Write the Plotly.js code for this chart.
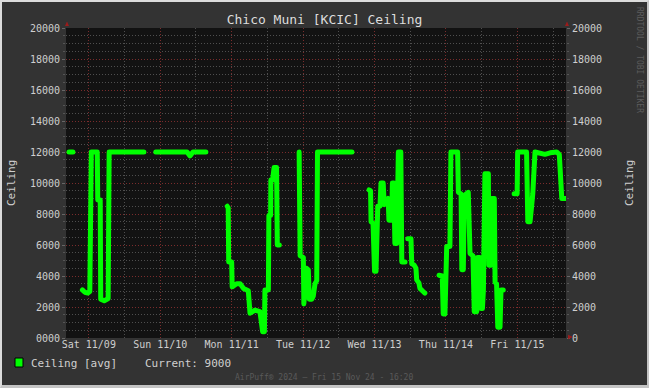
<!DOCTYPE html>
<html>
<head>
<meta charset="utf-8">
<script src="https://cdn.plot.ly/plotly-3.0.1.min.js"></script>
<style>
html,body{margin:0;padding:0;background:#333;}
#wrap{position:relative;width:649px;height:388px;}
#chart{position:absolute;left:0;top:0;width:649px;height:388px;}
#frame{position:absolute;left:0;top:0;width:649px;height:388px;box-sizing:border-box;
  border-style:solid;border-width:2px 2px 3px 2px;border-color:#dcdcdc #c4c4c4 #c4c4c4 #dcdcdc;pointer-events:none;}
.scatterlayer .js-line{stroke-linecap:round !important;stroke-linejoin:round !important;}
</style>
</head>
<body>
<div id="wrap"><div id="chart"></div><div id="frame"></div></div>
<script>
// ---- data ----
const chartTitle = 'Chico Muni [KCIC] Ceiling';
const seriesName = 'Ceiling [avg]';
const footerText = 'AirPuff\u00AE 2024 \u2013 Fri 15 Nov 24 - 16:20';
const sideText = 'RRDTOOL / TOBI OETIKER';
const timeRange = ['2024-11-08 16:20', '2024-11-15 16:20'];

const times = [
 '2024-11-08 17:20','2024-11-08 18:40','2024-11-08 20:00',
 '2024-11-08 21:50','2024-11-08 22:40','2024-11-08 23:40','2024-11-09 00:20','2024-11-09 00:50',
 '2024-11-09 02:50','2024-11-09 03:00','2024-11-09 03:50','2024-11-09 04:00','2024-11-09 05:10',
 '2024-11-09 06:30','2024-11-09 06:50','2024-11-09 18:30','2024-11-09 20:30',
 '2024-11-09 22:30','2024-11-10 09:00','2024-11-10 10:00','2024-11-10 11:00','2024-11-10 15:20','2024-11-10 19:00',
 '2024-11-10 22:30','2024-11-10 22:50','2024-11-10 23:00','2024-11-11 00:00','2024-11-11 00:10',
 '2024-11-11 01:40','2024-11-11 02:50','2024-11-11 04:00','2024-11-11 05:35','2024-11-11 06:10',
 '2024-11-11 07:50','2024-11-11 09:30','2024-11-11 10:25','2024-11-11 11:00','2024-11-11 11:10',
 '2024-11-11 12:20','2024-11-11 12:30','2024-11-11 13:05','2024-11-11 13:10','2024-11-11 13:45',
 '2024-11-11 14:15','2024-11-11 15:05','2024-11-11 15:20','2024-11-11 16:00','2024-11-11 19:00',
 '2024-11-11 22:40','2024-11-11 23:00','2024-11-12 00:05','2024-11-12 00:15','2024-11-12 01:10',
 '2024-11-12 01:45','2024-11-12 02:05','2024-11-12 02:55','2024-11-12 03:25','2024-11-12 04:00',
 '2024-11-12 04:35','2024-11-12 04:50','2024-11-12 16:25','2024-11-12 19:00',
 '2024-11-12 22:10','2024-11-12 22:40','2024-11-12 22:50','2024-11-12 23:30','2024-11-13 00:00',
 '2024-11-13 00:30','2024-11-13 01:05','2024-11-13 01:50','2024-11-13 02:10','2024-11-13 02:55',
 '2024-11-13 03:15','2024-11-13 04:35','2024-11-13 04:50','2024-11-13 05:45','2024-11-13 06:00',
 '2024-11-13 06:30','2024-11-13 06:50','2024-11-13 07:30','2024-11-13 08:00','2024-11-13 08:50',
 '2024-11-13 09:10','2024-11-13 10:15','2024-11-13 10:40',
 '2024-11-13 11:10','2024-11-13 12:15','2024-11-13 12:30','2024-11-13 13:20','2024-11-13 13:55',
 '2024-11-13 14:10','2024-11-13 14:55','2024-11-13 15:15','2024-11-13 16:20','2024-11-13 16:55','2024-11-13 19:00',
 '2024-11-13 21:40','2024-11-13 22:45','2024-11-13 23:05','2024-11-13 23:40','2024-11-14 00:15',
 '2024-11-14 01:20','2024-11-14 01:40','2024-11-14 03:55','2024-11-14 04:10','2024-11-14 05:05',
 '2024-11-14 05:20','2024-11-14 05:50','2024-11-14 06:10','2024-11-14 07:30','2024-11-14 08:05',
 '2024-11-14 09:05','2024-11-14 09:30','2024-11-14 10:20','2024-11-14 10:40','2024-11-14 11:25',
 '2024-11-14 11:45','2024-11-14 12:15','2024-11-14 12:35','2024-11-14 13:05','2024-11-14 14:15',
 '2024-11-14 14:25','2024-11-14 15:10','2024-11-14 15:20','2024-11-14 16:15','2024-11-14 16:30',
 '2024-11-14 17:00','2024-11-14 17:25','2024-11-14 18:10','2024-11-14 18:30','2024-11-14 19:15','2024-11-14 21:00',
 '2024-11-14 22:55','2024-11-14 23:55','2024-11-15 00:05','2024-11-15 03:05','2024-11-15 03:30',
 '2024-11-15 04:15','2024-11-15 04:50','2024-11-15 05:10','2024-11-15 05:55','2024-11-15 07:35',
 '2024-11-15 09:15','2024-11-15 11:00','2024-11-15 13:10','2024-11-15 14:05','2024-11-15 14:55','2024-11-15 16:05'
];
const ceiling = [
 12000,12000,null,
 3100,2950,2900,3000,12000,
 12000,8900,8900,2500,2400,
 2550,12000,12000,null,
 12000,12000,11750,12000,12000,null,
 8500,8400,4900,4900,3300,
 3500,3500,3200,3050,1600,
 1800,1700,400,400,3100,
 3100,7900,7900,10200,10200,
 11000,11000,6000,6000,null,
 12000,5300,5200,2200,4500,
 4400,2500,2500,2700,3500,
 3700,12000,12000,null,
 9550,9500,7500,7400,4300,
 4300,8500,8500,10000,10000,
 8600,9000,7600,7600,10000,
 10000,6100,6100,12000,12000,
 4900,4900,null,
 6400,6400,4800,4700,4500,
 3750,3550,3200,3000,2900,null,
 4050,4000,1550,1550,5900,
 5900,12000,12000,9400,9300,
 4400,4400,9200,9400,5450,
 5300,1700,1700,5200,5200,
 1900,1900,3100,10600,10600,
 4700,4700,9000,9000,3600,
 3500,700,700,3100,3100,null,
 9300,9300,12000,12000,7500,
 7500,8600,9300,12000,11950,
 11850,11950,12000,11850,9000,9000
];
const currentValue = ceiling[ceiling.length - 1];

// ---- styling ----
const mono = 'DejaVu Sans Mono, monospace';
const txt = '#cfcfcf';
const redGrid = '#7a2c2c';
const grayGrid = '#4e4e4e';
const arrowRed = '#9b1c1c';

const traces = [
  {x: times, y: ceiling, type: 'scatter', mode: 'lines', connectgaps: false,
   line: {color: '#00ff00', width: 5}, hoverinfo: 'skip', showlegend: false},
  {x: [times[0]], y: [null], type: 'scatter', mode: 'lines', yaxis: 'y2',
   hoverinfo: 'skip', showlegend: false}
];

const yCommon = {
  range: [0, 20000], dtick: 2000, tick0: 0, fixedrange: true, tickformat: 'd',
  tickfont: {family: mono, size: 10, color: txt},
  showgrid: true, gridcolor: redGrid, griddash: '1px,2px', gridwidth: 1,
  zeroline: false, ticks: 'outside', ticklen: 3, tickcolor: '#666',
  minor: {dtick: 500, tick0: 0, showgrid: true, gridcolor: grayGrid, griddash: '1px,2px',
          ticks: 'outside', ticklen: 2, tickcolor: '#555'},
  showline: false
};

const layout = {
  width: 649, height: 388,
  margin: {l: 66, r: 83, t: 28, b: 50},
  paper_bgcolor: '#333333', plot_bgcolor: '#121212',
  font: {family: mono, color: txt},
  title: {text: chartTitle, font: {family: mono, size: 13, color: '#dddddd'},
          x: 0.5, xref: 'container', xanchor: 'center', y: 1 - 19/388, yref: 'container', yanchor: 'middle'},
  xaxis: {
    type: 'date', range: timeRange, fixedrange: true,
    tick0: '2024-11-09', dtick: 86400000, tickformat: '%a %m/%d',
    tickfont: {family: mono, size: 10, color: txt},
    showgrid: true, gridcolor: redGrid, griddash: '1px,2px', gridwidth: 1,
    ticks: '', ticklabelstandoff: -1,
    minor: {dtick: 43200000, tick0: '2024-11-09', showgrid: true, gridcolor: grayGrid, griddash: '1px,2px', ticks: ''},
    showline: false, zeroline: false
  },
  yaxis: Object.assign({}, yCommon, {side: 'left', labelalias: {'0': '0000'}}),
  yaxis2: Object.assign({}, yCommon, {side: 'right', overlaying: 'y', showgrid: false,
          minor: {dtick: 500, tick0: 0, showgrid: false, ticks: 'outside', ticklen: 2, tickcolor: '#555'}}),
  hovermode: false,
  shapes: [
    {type: 'rect', xref: 'paper', yref: 'paper', xsizemode: 'pixel', ysizemode: 'pixel',
     xanchor: 0, yanchor: 0, x0: -51, x1: -43, y0: -29, y1: -20,
     fillcolor: '#00ff00', line: {color: '#000000', width: 1}},
    {type: 'path', xref: 'paper', yref: 'paper', xsizemode: 'pixel', ysizemode: 'pixel',
     xanchor: 0, yanchor: 1, path: 'M -1,2 L 3,2 L 1,6.5 Z', fillcolor: arrowRed, line: {width: 0}},
    {type: 'path', xref: 'paper', yref: 'paper', xsizemode: 'pixel', ysizemode: 'pixel',
     xanchor: 1, yanchor: 1, path: 'M -1,2 L 3,2 L 1,6.5 Z', fillcolor: arrowRed, line: {width: 0}},
    {type: 'path', xref: 'paper', yref: 'paper', xsizemode: 'pixel', ysizemode: 'pixel',
     xanchor: 1, yanchor: 0, path: 'M 2,3.3 L 2,-1.3 L 7,1 Z', fillcolor: arrowRed, line: {width: 0}}
  ],
  annotations: [
    {text: 'Ceiling', xref: 'paper', yref: 'paper', x: 0, y: 0.5, xshift: -55, textangle: -90,
     showarrow: false, xanchor: 'center', yanchor: 'middle', font: {family: mono, size: 11, color: txt}},
    {text: 'Ceiling', xref: 'paper', yref: 'paper', x: 1, y: 0.5, xshift: 63, textangle: -90,
     showarrow: false, xanchor: 'center', yanchor: 'middle', font: {family: mono, size: 11, color: txt}},
    {text: sideText, xref: 'paper', yref: 'paper', x: 1, y: 1, xshift: 74, yshift: -32, textangle: 90,
     showarrow: false, xanchor: 'center', yanchor: 'middle', font: {family: mono, size: 8, color: '#5c5c5c'}},
    {text: seriesName, xref: 'paper', yref: 'paper', x: 0, y: 0, xshift: -37, yshift: -25,
     showarrow: false, xanchor: 'left', yanchor: 'middle', font: {family: mono, size: 11, color: txt}},
    {text: 'Current: ' + currentValue, xref: 'paper', yref: 'paper', x: 0, y: 0, xshift: 77, yshift: -25,
     showarrow: false, xanchor: 'left', yanchor: 'middle', font: {family: mono, size: 11, color: txt}},
    {text: footerText, xref: 'paper', yref: 'paper', x: 0.5, y: 0, xshift: 8, yshift: -39,
     showarrow: false, xanchor: 'center', yanchor: 'middle', font: {family: mono, size: 8, color: '#5a5a5a'}}
  ]
};

Plotly.newPlot('chart', traces, layout, {displayModeBar: false, staticPlot: true});
</script>
</body>
</html>
